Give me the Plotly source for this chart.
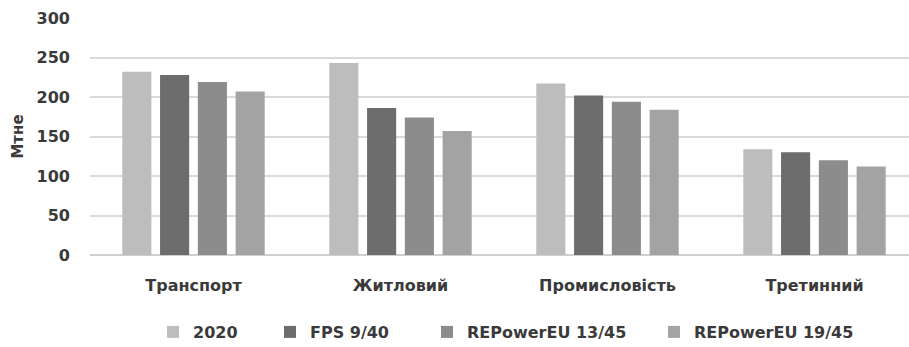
import plotly.graph_objects as go

categories = ["Транспорт", "Житловий", "Промисловість", "Третинний"]
series_names = ["2020", "FPS 9/40", "REPowerEU 13/45", "REPowerEU 19/45"]
values_2020 = [232, 243, 217, 134]
values_fps = [228, 186, 202, 130]
values_rep13 = [219, 174, 194, 120]
values_rep19 = [207, 157, 184, 112]
y_ticks = [0, 50, 100, 150, 200, 250, 300]

series_values = [values_2020, values_fps, values_rep13, values_rep19]
colors = ["#bdbdbd", "#6d6d6d", "#8c8c8c", "#a3a3a3"]

W, H = 909, 347
FONT = "DejaVu Sans"
TXT = "#3a3a3a"
FS = 16

# pixel positions where each legend entry's text should start
legend_text_x = [193, 310, 467, 694]

fig = go.Figure()
legend_ids = ["legend", "legend2", "legend3", "legend4"]
for name, vals, col, lid in zip(series_names, series_values, colors, legend_ids):
    fig.add_trace(go.Bar(
        x=categories, y=vals, name=name, legend=lid,
        marker=dict(color=col, line=dict(width=0)),
    ))

layout_legends = {}
for lid, tx in zip(legend_ids, legend_text_x):
    layout_legends[lid] = dict(
        xref="container", yref="container",
        x=(tx - 40) / W, xanchor="left",
        y=1 - 332 / H, yanchor="middle",
        orientation="h",
        font=dict(family=FONT, size=FS, color=TXT, weight="bold"),
        bgcolor="rgba(0,0,0,0)", borderwidth=0,
    )

fig.update_layout(
    width=W, height=H,
    margin=dict(l=90, r=0, t=18, b=92),
    paper_bgcolor="white", plot_bgcolor="white",
    barmode="group", bargap=0.27, bargroupgap=0.23,
    showlegend=True,
    font=dict(family=FONT, color=TXT),
    xaxis=dict(
        range=[-0.5, -0.5 + 819 / 207],
        showgrid=False, zeroline=False, showline=False,
        ticks="", ticklabelstandoff=19,
        tickfont=dict(family=FONT, size=FS, color=TXT, weight="bold"),
    ),
    yaxis=dict(
        range=[0, 300], tickvals=y_ticks,
        showgrid=True, gridcolor="#dadada", gridwidth=1.6,
        zeroline=True, zerolinecolor="#cfcfcf", zerolinewidth=1.6,
        showline=False, ticks="", ticklabelstandoff=19,
        tickfont=dict(family=FONT, size=FS, color=TXT, weight="bold"),
        title=dict(text="Мтне", standoff=9,
                   font=dict(family=FONT, size=15, color=TXT, weight="bold")),
    ),
    **layout_legends,
)

fig.write_html("out.html")
